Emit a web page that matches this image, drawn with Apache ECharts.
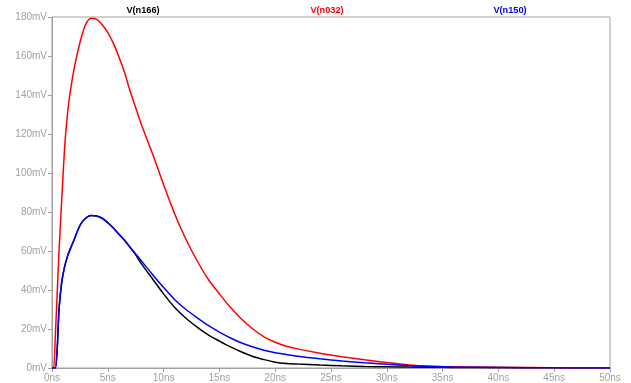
<!DOCTYPE html>
<html><head><meta charset="utf-8">
<script src="https://cdn.jsdelivr.net/npm/echarts@6/dist/echarts.min.js"></script>
<style>html,body{margin:0;padding:0;background:#fff}#c{width:631px;height:383px}</style>
</head><body><div id="c"></div>
<script>
const seriesNames = ['V(n166)', 'V(n032)', 'V(n150)'];
const seriesColors = ['#000000', '#ff0000', '#0000ff'];
const timeNs = [0, 0.15, 0.3, 0.45, 0.63, 0.87, 1.13, 1.4, 1.7, 2.0, 2.3, 2.6, 3.0, 3.5, 4.0, 4.5, 5.0, 5.5, 6.0, 6.5, 7.0, 7.5, 8.0, 9.0, 10.0, 11.0, 12.0, 13.0, 14.0, 15.0, 16.0, 17.0, 18.0, 19.0, 20.0, 21.0, 22.0, 24.0, 26.0, 28.0, 30.0, 32.0, 34.0, 36.0, 38.0, 40.0, 45.0, 50.0];
const vN032 = [0, 0, 17, 36, 60, 86, 113, 131, 144, 154, 162, 169, 176, 179.3, 178.8, 176, 172, 166.5, 159.5, 151.5, 142, 133.5, 125, 110, 94, 79, 66, 55, 45.5, 38, 31, 25, 20, 16, 13.2, 11.2, 9.8, 7.6, 5.8, 4.2, 2.8, 1.6, 0.9, 0.6, 0.4, 0.3, 0.1, 0];
const vN166 = [0, 0, 0, 8, 30, 44, 52, 57.5, 62, 66, 70.5, 74, 76.8, 78.2, 78, 76.8, 74.5, 71.8, 68.6, 65.5, 61.8, 58, 53.5, 45.8, 38, 31, 25.5, 21, 17, 13.8, 10.8, 8.2, 5.9, 4.3, 3.0, 2.3, 2.0, 1.5, 1.1, 0.8, 0.6, 0.45, 0.35, 0.3, 0.25, 0.2, 0.1, 0];
const vN150 = [0, 0, 0, 8, 30, 44, 52, 57.5, 62, 66, 70.5, 74, 76.8, 78.2, 78, 76.8, 74.5, 71.8, 68.6, 65.5, 62, 58.5, 55, 48, 41.3, 35, 30, 25.8, 21.8, 18.4, 15.4, 12.8, 10.8, 9.1, 7.8, 6.9, 6, 4.7, 3.6, 2.7, 1.9, 1.2, 0.8, 0.5, 0.35, 0.25, 0.1, 0];
const xTicks = [0, 5, 10, 15, 20, 25, 30, 35, 40, 45, 50];
const yTicks = [0, 20, 40, 60, 80, 100, 120, 140, 160, 180];
const legendX = [143, 327, 510];

const valuesList = [vN166, vN032, vN150];
const gray = '#a0a0a0';
const chart = echarts.init(document.getElementById('c'), null, {renderer: 'canvas'});
chart.setOption({
  animation: false,
  backgroundColor: '#fff',
  title: seriesNames.map((n, i) => ({
    text: n, left: legendX[i], top: 6, textAlign: 'center', padding: 0,
    textStyle: {color: seriesColors[i], fontSize: 9.2, fontWeight: 'bold', fontFamily: 'Liberation Sans'}
  })),
  grid: {left: 52, right: 21, top: 17, bottom: 15, show: true, borderColor: gray, borderWidth: 1},
  xAxis: {
    type: 'value', min: xTicks[0], max: xTicks[xTicks.length - 1], interval: 5,
    axisLine: {show: true, lineStyle: {color: gray}},
    axisTick: {show: true, length: 4, lineStyle: {color: gray}},
    splitLine: {show: false},
    axisLabel: {color: gray, fontSize: 10, fontFamily: 'Liberation Sans', margin: 5, formatter: v => v + 'ns'}
  },
  yAxis: {
    type: 'value', min: yTicks[0], max: yTicks[yTicks.length - 1], interval: 20,
    axisLine: {show: true, lineStyle: {color: gray}},
    axisTick: {show: true, length: 4, lineStyle: {color: gray}},
    splitLine: {show: false},
    axisLabel: {color: gray, fontSize: 10, fontFamily: 'Liberation Sans', margin: 5, formatter: v => v + 'mV'}
  },
  series: seriesNames.map((n, i) => ({
    name: n, type: 'line', showSymbol: false, smooth: 0.25,
    lineStyle: {color: seriesColors[i], width: 1.5},
    data: timeNs.map((t, k) => [t, valuesList[i][k]]),
    z: i === 1 ? 3 : (i === 2 ? 4 : 2)
  }))
});
</script></body></html>
